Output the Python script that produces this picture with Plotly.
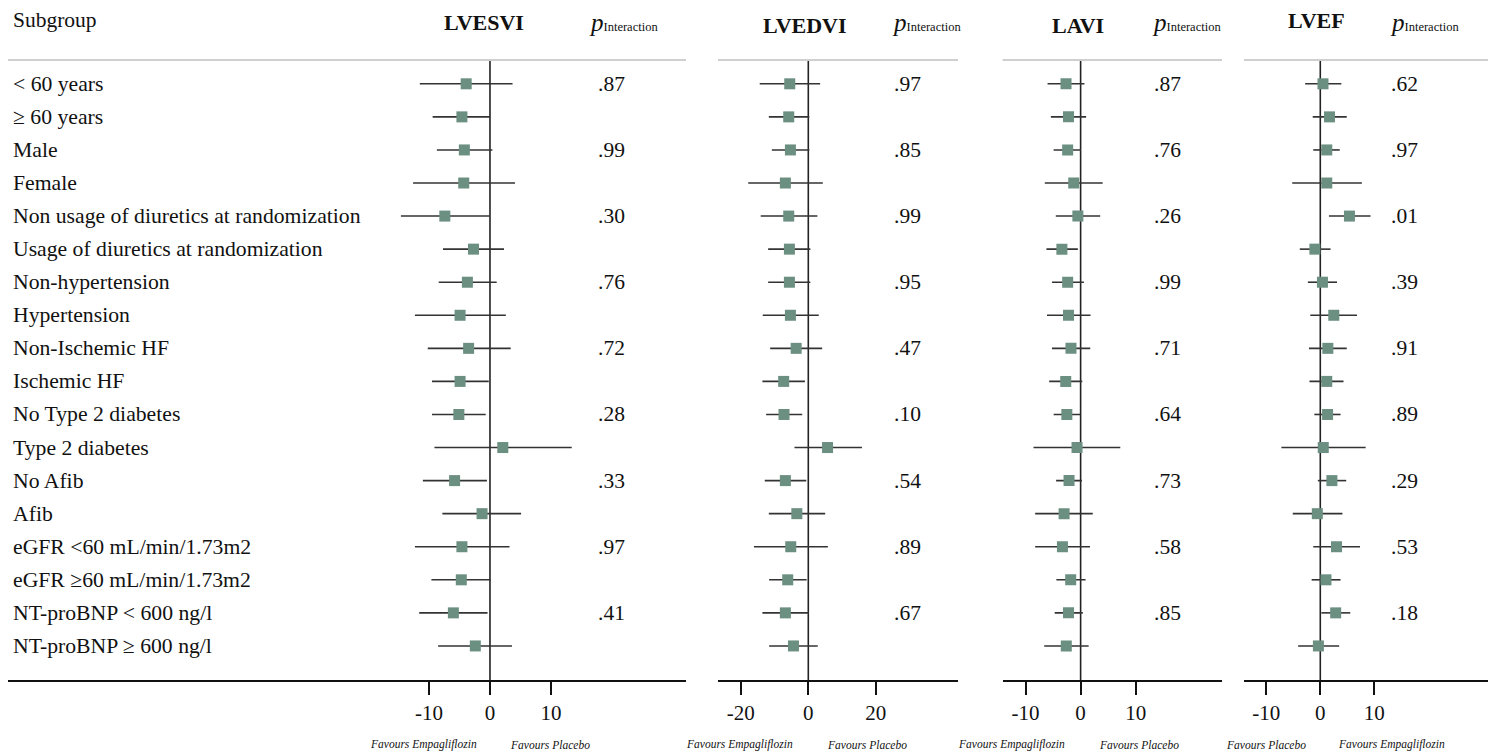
import plotly.graph_objects as go

# ---------------- data ----------------
subgroups = [
    "&lt; 60 years", "≥ 60 years", "Male", "Female",
    "Non usage of diuretics at randomization", "Usage of diuretics at randomization",
    "Non-hypertension", "Hypertension", "Non-Ischemic HF", "Ischemic HF",
    "No Type 2 diabetes", "Type 2 diabetes", "No Afib", "Afib",
    "eGFR &lt;60 mL/min/1.73m2", "eGFR ≥60 mL/min/1.73m2",
    "NT-proBNP &lt; 600 ng/l", "NT-proBNP ≥ 600 ng/l",
]

lvesvi_est = [-3.9, -4.6, -4.2, -4.3, -7.4, -2.7, -3.7, -4.9, -3.5, -4.9, -5.1, 2.1, -5.8, -1.3, -4.6, -4.7, -6.0, -2.4]
lvesvi_lo = [-11.5, -9.4, -8.7, -12.6, -14.6, -7.7, -8.4, -12.3, -10.2, -9.5, -9.5, -9.1, -11.0, -7.8, -12.3, -9.6, -11.6, -8.5]
lvesvi_hi = [3.7, 0.0, 0.4, 4.1, 0.0, 2.3, 1.1, 2.6, 3.4, -0.2, -0.7, 13.4, -0.5, 5.1, 3.2, 0.1, -0.4, 3.6]

lvedvi_est = [-5.5, -5.8, -5.3, -6.8, -5.8, -5.6, -5.6, -5.3, -3.6, -7.3, -7.2, 5.7, -6.8, -3.4, -5.2, -6.1, -6.8, -4.4]
lvedvi_lo = [-14.4, -11.7, -10.8, -17.8, -14.1, -11.9, -11.9, -13.5, -11.3, -13.6, -12.5, -4.1, -12.9, -11.7, -16.1, -11.6, -13.6, -11.6]
lvedvi_hi = [3.5, 0.3, 0.3, 4.3, 2.7, 0.6, 0.6, 3.1, 4.1, -1.0, -1.8, 15.9, -0.6, 5.0, 5.8, -0.5, 0.2, 2.8]

lavi_est = [-2.65, -2.2, -2.35, -1.25, -0.5, -3.4, -2.35, -2.2, -1.75, -2.7, -2.5, -0.65, -2.1, -3.0, -3.3, -1.8, -2.2, -2.6]
lavi_lo = [-6.0, -5.4, -4.9, -6.5, -4.5, -6.2, -5.2, -6.1, -5.2, -5.7, -4.9, -8.55, -4.45, -8.25, -8.25, -4.4, -4.7, -6.6]
lavi_hi = [0.7, 1.0, 0.05, 4.0, 3.55, -0.5, 0.6, 1.8, 1.75, 0.3, -0.05, 7.2, 0.25, 2.2, 1.7, 0.9, 0.4, 1.45]

lvef_est = [0.5, 1.7, 1.2, 1.2, 5.4, -1.0, 0.4, 2.5, 1.4, 1.2, 1.35, 0.55, 2.15, -0.55, 3.0, 1.05, 2.85, -0.35]
lvef_lo = [-2.8, -1.4, -1.3, -5.2, 1.6, -3.8, -2.3, -1.85, -2.1, -2.0, -1.1, -7.2, -0.45, -5.1, -1.3, -1.6, 0.2, -4.1]
lvef_hi = [3.9, 4.9, 3.6, 7.7, 9.3, 1.9, 3.1, 6.8, 4.9, 4.3, 3.75, 8.4, 4.8, 4.1, 7.35, 3.75, 5.55, 3.5]

p_lvesvi = [".87", ".99", ".30", ".76", ".72", ".28", ".33", ".97", ".41"]
p_lvedvi = [".97", ".85", ".99", ".95", ".47", ".10", ".54", ".89", ".67"]
p_lavi = [".87", ".76", ".26", ".99", ".71", ".64", ".73", ".58", ".85"]
p_lvef = [".62", ".97", ".01", ".39", ".91", ".89", ".29", ".53", ".18"]

titles = ["LVESVI", "LVEDVI", "LAVI", "LVEF"]
ticks_lvesvi = [-10, 0, 10]
ticks_lvedvi = [-20, 0, 20]
ticks_lavi = [-10, 0, 10]
ticks_lvef = [-10, 0, 10]
favours_left = ["Favours Empagliflozin", "Favours Empagliflozin", "Favours Empagliflozin", "Favours Placebo"]
favours_right = ["Favours Placebo", "Favours Placebo", "Favours Placebo", "Favours Empagliflozin"]

# ---------------- layout config ----------------
W, H = 1488, 755
MT, MB = 60, 75
PH = H - MT - MB
SERIF = "Liberation Serif, Times New Roman, serif"
MARK = "#6b8f80"

def px_x(p):
    return p / W

def px_y(p):
    return 1 - (p - MT) / PH

panels = [
    dict(est=lvesvi_est, lo=lvesvi_lo, hi=lvesvi_hi, p=p_lvesvi, ticks=ticks_lvesvi,
         dom=(8, 686), rng=[-79.0, 32.13], title_x=484, title_y=22, p_x=587, v_x=596, fav_l=423, fav_r=550),
    dict(est=lvedvi_est, lo=lvedvi_lo, hi=lvedvi_hi, p=p_lvedvi, ticks=ticks_lvedvi,
         dom=(718, 958), rng=[-26.76, 44.36], title_x=805, title_y=25, p_x=890, v_x=892, fav_l=739, fav_r=867),
    dict(est=lavi_est, lo=lavi_lo, hi=lavi_hi, p=p_lavi, ticks=ticks_lavi,
         dom=(1002.6, 1222), rng=[-14.16, 25.66], title_x=1078, title_y=25, p_x=1150, v_x=1152, fav_l=1011, fav_r=1139),
    dict(est=lvef_est, lo=lvef_lo, hi=lvef_hi, p=p_lvef, ticks=ticks_lvef,
         dom=(1244, 1488), rng=[-14.13, 31.06], title_x=1316, title_y=21, p_x=1388, v_x=1389, fav_l=1266, fav_r=1391),
]

rows = list(range(len(subgroups)))

fig = go.Figure()
annotations = []
shapes = []
layout_axes = {}

for i, pnl in enumerate(panels):
    xname = "x" if i == 0 else f"x{i+1}"
    axkey = "xaxis" if i == 0 else f"xaxis{i+1}"
    plus = [h - e for h, e in zip(pnl["hi"], pnl["est"])]
    minus = [e - l for e, l in zip(pnl["est"], pnl["lo"])]
    fig.add_trace(go.Scatter(
        x=pnl["est"], y=rows, xaxis=xname, yaxis="y", mode="markers",
        marker=dict(symbol="square", size=11, color=MARK, line=dict(width=0)),
        error_x=dict(type="data", symmetric=False, array=plus, arrayminus=minus,
                     width=0, thickness=1.6, color="#333333"),
        showlegend=False, hoverinfo="x+y",
    ))
    layout_axes[axkey] = dict(
        domain=[px_x(pnl["dom"][0]), px_x(pnl["dom"][1])], range=pnl["rng"], anchor="y",
        showline=True, linecolor="#111111", linewidth=1.6, ticks="outside", ticklen=13,
        tickwidth=1.6, tickcolor="#111111", tickvals=pnl["ticks"],
        ticktext=[str(t) for t in pnl["ticks"]],
        showgrid=False, zeroline=False, fixedrange=True,
        tickfont=dict(family=SERIF, size=21, color="#111111"),
    )
    # top grey rule
    shapes.append(dict(type="line", xref="paper", yref="paper",
                       x0=px_x(pnl["dom"][0]), x1=px_x(pnl["dom"][1]), y0=1, y1=1,
                       line=dict(color="#cfcfcf", width=2)))
    # zero reference line
    shapes.append(dict(type="line", xref=xname, yref="paper", x0=0, x1=0, y0=0, y1=1,
                       line=dict(color="#222222", width=1.6), layer="below"))
    # title
    annotations.append(dict(text=f"<b>{titles[i]}</b>", xref="paper", yref="paper",
                            x=px_x(pnl["title_x"]), y=px_y(pnl["title_y"]), xanchor="center",
                            yanchor="middle", showarrow=False,
                            font=dict(family=SERIF, size=22, color="#111111")))
    annotations.append(dict(text="<i>p</i><span style='font-size:12.5px'>Interaction</span>",
                            xref="paper", yref="paper", x=px_x(pnl["p_x"]), y=px_y(22),
                            xanchor="left", yanchor="middle", showarrow=False,
                            font=dict(family=SERIF, size=25, color="#111111")))
    for k, pv in enumerate(pnl["p"]):
        annotations.append(dict(text=pv, xref="paper", yref="y", x=px_x(pnl["v_x"]), y=rows[2 * k],
                                xanchor="left", yanchor="middle", showarrow=False,
                                font=dict(family=SERIF, size=21.5, color="#111111")))
    annotations.append(dict(text=f"<i>{favours_left[i]}</i>", xref="paper", yref="paper",
                            x=px_x(pnl["fav_l"]), y=px_y(745), xanchor="center", yanchor="middle",
                            showarrow=False, font=dict(family=SERIF, size=11.5, color="#111111")))
    annotations.append(dict(text=f"<i>{favours_right[i]}</i>", xref="paper", yref="paper",
                            x=px_x(pnl["fav_r"]), y=px_y(745), xanchor="center", yanchor="middle",
                            showarrow=False, font=dict(family=SERIF, size=11.5, color="#111111")))

annotations.append(dict(text="Subgroup", xref="paper", yref="paper", x=px_x(11), y=px_y(20),
                        xanchor="left", yanchor="middle", showarrow=False,
                        font=dict(family=SERIF, size=21.5, color="#111111")))
for r, lab in zip(rows, subgroups):
    annotations.append(dict(text=lab, xref="paper", yref="y", x=px_x(11), y=r,
                            xanchor="left", yanchor="middle", showarrow=False,
                            font=dict(family=SERIF, size=21.7, color="#111111")))

fig.update_layout(
    width=W, height=H, margin=dict(l=0, r=0, t=MT, b=MB),
    paper_bgcolor="white", plot_bgcolor="white",
    yaxis=dict(domain=[0, 1], range=[18.03, -0.72], visible=False, fixedrange=True),
    annotations=annotations, shapes=shapes, showlegend=False,
    **layout_axes,
)

fig.write_html("out.html", config={"displayModeBar": False})
